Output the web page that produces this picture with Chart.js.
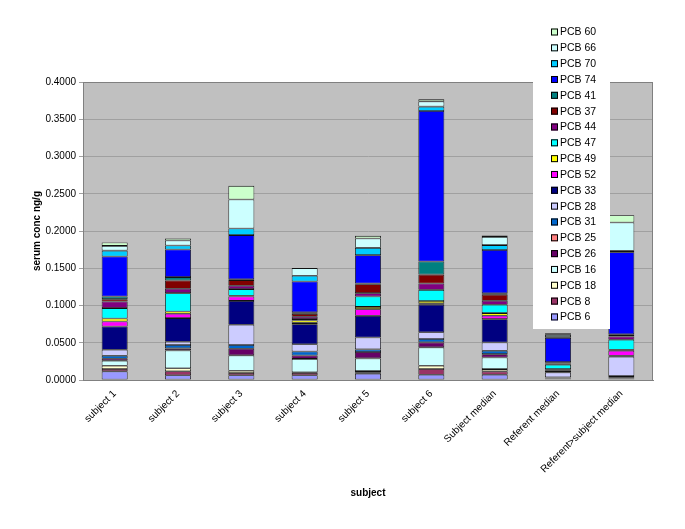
<!DOCTYPE html>
<html>
<head>
<meta charset="utf-8">
<script src="https://cdn.jsdelivr.net/npm/chart.js@4/dist/chart.umd.min.js"></script>
<style>
  html, body { margin: 0; padding: 0; background: #fff; }
  #wrap { width: 685px; height: 529px; position: relative; }
</style>
</head>
<body>
<div id="wrap"><canvas id="barChart" width="685" height="529"></canvas></div>
<script>
const categories = ['subject 1', 'subject 2', 'subject 3', 'subject 4', 'subject 5', 'subject 6',
  'Subject median', 'Referent median', 'Referent>subject median'];

// values per congener, bottom of stack first (null = nothing drawn)
const pcb6  = [0.0116, 0.0063, 0.0063, 0.0063, 0.0085, 0.0071, 0.0071, 0.0010, 0.0010];
const pcb8  = [0.0031, 0.0054, 0.0031, 0.0030, 0.0020, 0.0076, 0.0045, 0.0005, 0.0010];
const pcb18 = [0.0045, 0.0040, 0.0031, 0.0010, 0.0015, 0.0045, 0.0030, 0.0003, 0.0005];
const pcb16 = [0.0067, 0.0240, 0.0206, 0.0180, 0.0170, 0.0246, 0.0156, 0.0005, 0.0005];
const pcb26 = [0.0027, 0.0027, 0.0089, 0.0045, 0.0085, 0.0067, 0.0045, 0.0010, 0.0010];
const pcb25 = [null, null, null, null, null, null, null, null, null];
const pcb31 = [0.0040, 0.0045, 0.0049, 0.0054, 0.0036, 0.0045, 0.0045, 0.0003, 0.0013];
const pcb28 = [0.0080, 0.0045, 0.0273, 0.0098, 0.0160, 0.0090, 0.0112, 0.0067, 0.0260];
const pcb33 = [0.0313, 0.0317, 0.0320, 0.0268, 0.0290, 0.0370, 0.0313, 0.0020, 0.0013];
const pcb52 = [0.0067, 0.0058, 0.0058, 0.0020, 0.0090, 0.0020, 0.0045, 0.0020, 0.0067];
const pcb49 = [0.0040, 0.0031, 0.0010, 0.0030, 0.0030, 0.0030, 0.0036, 0.0005, 0.0013];
const pcb47 = [0.0139, 0.0246, 0.0090, 0.0020, 0.0140, 0.0150, 0.0112, 0.0057, 0.0134];
const pcb44 = [0.0089, 0.0058, 0.0045, 0.0030, 0.0045, 0.0085, 0.0054, 0.0015, 0.0045];
const pcb37 = [0.0031, 0.0112, 0.0076, 0.0040, 0.0120, 0.0120, 0.0080, 0.0010, 0.0020];
const pcb41 = [0.0036, 0.0045, 0.0010, 0.0020, 0.0010, 0.0175, 0.0020, 0.0010, 0.0010];
const pcb74 = [0.0536, 0.0370, 0.0594, 0.0415, 0.0380, 0.2020, 0.0580, 0.0326, 0.1100];
const pcb70 = [0.0080, 0.0054, 0.0089, 0.0076, 0.0098, 0.0060, 0.0067, 0.0010, 0.0020];
const pcb66 = [0.0063, 0.0067, 0.0389, 0.0103, 0.0125, 0.0070, 0.0110, 0.0030, 0.0380];
const pcb60 = [0.0045, 0.0027, 0.0183, null, 0.0036, 0.0030, 0.0020, 0.0020, 0.0098];

const seriesNames = ['PCB 6', 'PCB 8', 'PCB 18', 'PCB 16', 'PCB 26', 'PCB 25', 'PCB 31', 'PCB 28', 'PCB 33',
  'PCB 52', 'PCB 49', 'PCB 47', 'PCB 44', 'PCB 37', 'PCB 41', 'PCB 74', 'PCB 70', 'PCB 66', 'PCB 60'];
const seriesValues = [pcb6, pcb8, pcb18, pcb16, pcb26, pcb25, pcb31, pcb28, pcb33,
  pcb52, pcb49, pcb47, pcb44, pcb37, pcb41, pcb74, pcb70, pcb66, pcb60];
const seriesColors = ['#9999FF', '#993366', '#FFFFCC', '#CCFFFF', '#660066', '#FF8080', '#0066CC', '#CCCCFF', '#000080',
  '#FF00FF', '#FFFF00', '#00FFFF', '#800080', '#800000', '#008080', '#0000FF', '#00CCFF', '#CCFFFF', '#CCFFCC'];

const yTicks = [0, 0.05, 0.1, 0.15, 0.2, 0.25, 0.3, 0.35, 0.4];

// grey plot area behind the bars
const plotBackground = {
  id: 'plotBackground',
  beforeDraw(chart) {
    const { ctx, chartArea: a } = chart;
    ctx.save();
    ctx.fillStyle = '#C0C0C0';
    ctx.fillRect(a.left, a.top, a.right - a.left, a.bottom - a.top);
    ctx.restore();
  },
  afterDatasetsDraw(chart) {
    const { ctx, chartArea: a } = chart;
    ctx.save();
    ctx.strokeStyle = '#808080';
    ctx.lineWidth = 1;
    ctx.strokeRect(a.left + 0.5, a.top + 0.5, a.right - a.left - 1, a.bottom - a.top);
    ctx.restore();
  }
};

// legend box sitting over the plot, top entry = last series
const boxLegend = {
  id: 'boxLegend',
  afterDraw(chart) {
    const ctx = chart.ctx;
    const x = 533, y = 23, w = 77, h = 306, step = 15.83;
    ctx.save();
    ctx.fillStyle = '#fff';
    ctx.fillRect(x, y, w, h);
    ctx.font = '10.5px "Liberation Sans", Arial, sans-serif';
    ctx.textBaseline = 'middle';
    const n = chart.data.datasets.length;
    for (let i = 0; i < n; i++) {
      const ds = chart.data.datasets[n - 1 - i];
      const cy = y + 9 + i * step;
      ctx.fillStyle = ds.backgroundColor;
      ctx.fillRect(x + 18, cy - 3.5, 7, 7);
      ctx.strokeStyle = '#000';
      ctx.lineWidth = 1;
      ctx.strokeRect(x + 18.5, cy - 3, 6, 6);
      ctx.fillStyle = '#000';
      ctx.fillText(ds.label, x + 27, cy + 0.5);
    }
    ctx.restore();
  }
};

const ctx = document.getElementById('barChart').getContext('2d');
const chart = new Chart(ctx, {
  type: 'bar',
  data: {
    labels: categories,
    datasets: seriesNames.map((name, i) => ({
      label: name,
      data: seriesValues[i],
      backgroundColor: seriesColors[i],
      borderColor: '#111',
      borderWidth: 0.8,
      borderSkipped: false,
      barPercentage: 0.41,
      categoryPercentage: 1
    }))
  },
  options: {
    responsive: false,
    animation: false,
    layout: { padding: { top: 82, right: 32, left: 27, bottom: 26 } },
    plugins: {
      legend: { display: false },
      tooltip: { enabled: false }
    },
    scales: {
      x: {
        stacked: true,
        grid: { display: false, drawTicks: true, tickLength: 4 },
        border: { color: '#808080' },
        ticks: {
          color: '#000',
          font: { family: '"Liberation Sans", Arial, sans-serif', size: 10 },
          minRotation: 45,
          maxRotation: 45,
          autoSkip: false,
          padding: 4
        },
        title: {
          display: true,
          text: 'subject',
          color: '#000',
          font: { family: '"Liberation Sans", Arial, sans-serif', size: 10, weight: 'bold' }
        },
        afterFit(scale) { scale.height = 123; }
      },
      y: {
        stacked: true,
        min: 0,
        max: 0.4,
        afterBuildTicks(scale) { scale.ticks = yTicks.map(v => ({ value: v })); },
        grid: { color: '#a0a0a0', drawTicks: true, tickLength: 4 },
        border: { color: '#808080' },
        ticks: {
          color: '#000',
          font: { family: '"Liberation Sans", Arial, sans-serif', size: 10 },
          padding: 3,
          callback: v => v.toFixed(4)
        },
        title: {
          display: true,
          text: 'serum conc ng/g',
          color: '#000',
          font: { family: '"Liberation Sans", Arial, sans-serif', size: 10, weight: 'bold' }
        },
        afterFit(scale) { scale.width = 56; }
      }
    }
  },
  plugins: [plotBackground, boxLegend]
});
</script>
</body>
</html>
